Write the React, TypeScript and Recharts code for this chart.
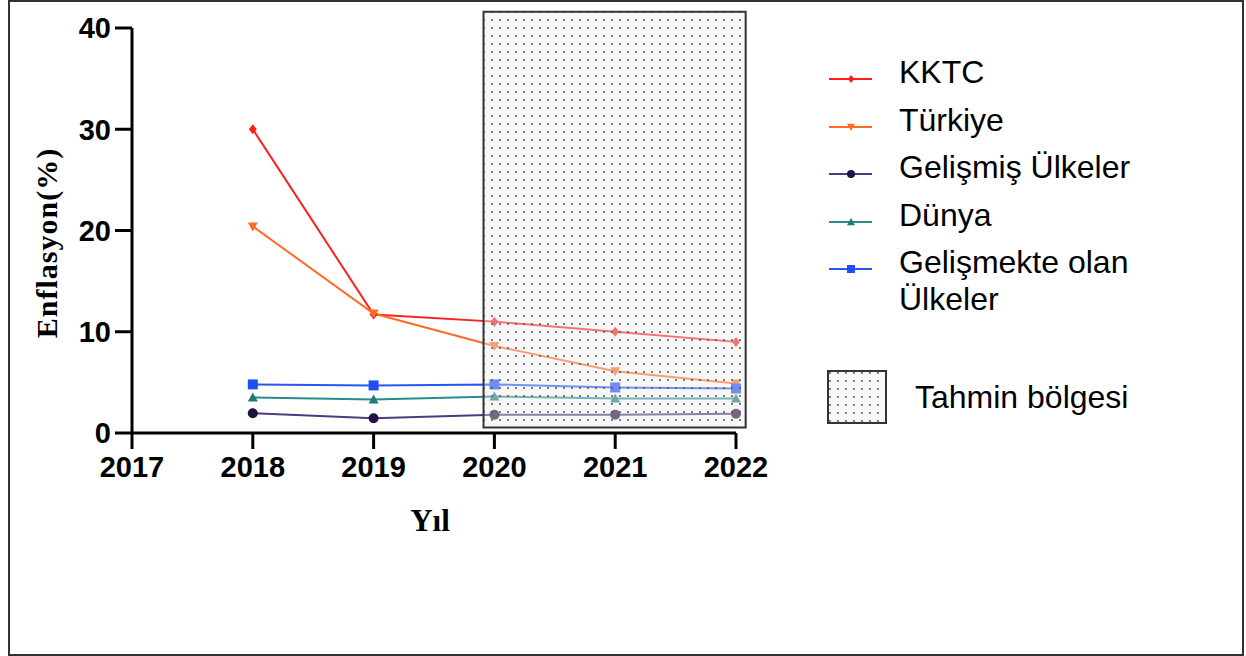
import React from 'react'
import { LineChart, Line, XAxis, YAxis, ReferenceArea, Label } from 'recharts'

// years and inflation (%) per series
const years = [2018, 2019, 2020, 2021, 2022]
const xTicks = [2017, 2018, 2019, 2020, 2021, 2022]
const yTicks = [0, 10, 20, 30, 40]

const kktc = [30.0, 11.7, 11.0, 10.0, 9.0]
const turkiye = [20.4, 11.8, 8.6, 6.1, 4.9]
const gelismis = [1.95, 1.45, 1.8, 1.8, 1.9]
const dunya = [3.5, 3.3, 3.6, 3.4, 3.4]
const gelismekte = [4.8, 4.7, 4.8, 4.5, 4.4]

// forecast region (Tahmin bölgesi)
const forecastX = [2019.91, 2022.08]
const forecastY = [0.55, 41.6]

const series = [
  { key: 'kktc', name: 'KKTC', values: kktc, color: '#ff1f1f', markColor: '#ff1f1f', shape: 'diamond' },
  { key: 'turkiye', name: 'Türkiye', values: turkiye, color: '#ff6a24', markColor: '#ff6a24', shape: 'triangleDown' },
  { key: 'gelismis', name: 'Gelişmiş Ülkeler', values: gelismis, color: '#4a3c7e', markColor: '#211043', shape: 'circle' },
  { key: 'dunya', name: 'Dünya', values: dunya, color: '#2c8c8c', markColor: '#1f7b7b', shape: 'triangle' },
  { key: 'gelismekte', name: 'Gelişmekte olan Ülkeler', values: gelismekte, color: '#2458f0', markColor: '#1f4ff2', shape: 'square' },
]

const data = years.map((year, i) => {
  const row: any = { year }
  series.forEach(s => { row[s.key] = s.values[i] })
  return row
})

function Marker({ cx, cy, shape, fill, s = 5 }: any) {
  if (cx == null || cy == null) return null
  switch (shape) {
    case 'diamond':
      return <polygon points={`${cx},${cy - s} ${cx + s * 0.8},${cy} ${cx},${cy + s} ${cx - s * 0.8},${cy}`} fill={fill} />
    case 'triangleDown':
      return <polygon points={`${cx - s},${cy - s * 0.8} ${cx + s},${cy - s * 0.8} ${cx},${cy + s}`} fill={fill} />
    case 'triangle':
      return <polygon points={`${cx},${cy - s} ${cx + s},${cy + s * 0.8} ${cx - s},${cy + s * 0.8}`} fill={fill} />
    case 'square':
      return <rect x={cx - s} y={cy - s} width={s * 2} height={s * 2} fill={fill} />
    default:
      return <circle cx={cx} cy={cy} r={s} fill={fill} />
  }
}

const tickStyle = { fontFamily: 'Liberation Sans, Arial, sans-serif', fontWeight: 700, fontSize: 29, fill: '#000' }
const titleStyle = { fontFamily: 'Liberation Serif, Times New Roman, serif', fontWeight: 700, fill: '#000' }

function PatternDefs({ id }: { id: string }) {
  return (
    <defs>
      <pattern id={id} width="8" height="8" patternUnits="userSpaceOnUse">
        <rect width="8" height="8" fill="rgba(236,236,236,0.4)" />
        <circle cx="4" cy="4" r="1" fill="#555" />
      </pattern>
    </defs>
  )
}

export default function App() {
  return (
    <div style={{ position: 'absolute', left: 0, top: 0, width: 1246, height: 656, background: '#fff' }}>
      <div style={{ position: 'absolute', left: 8, top: 0, width: 1236, height: 656, border: '2px solid #333', boxSizing: 'border-box' }} />
      <LineChart width={1246} height={656} data={data} margin={{ top: 28, right: 510, bottom: 163, left: 72 }}>
        <PatternDefs id="dots" />
        <XAxis
          dataKey="year"
          type="number"
          domain={[2017, 2022]}
          ticks={xTicks}
          tick={tickStyle}
          tickSize={16}
          tickMargin={7}
          height={60}
          axisLine={{ stroke: '#000', strokeWidth: 3 }}
          tickLine={{ stroke: '#000', strokeWidth: 3 }}
        >
          <Label
            content={() => (
              <text x={430} y={531} textAnchor="middle" style={{ ...titleStyle, fontSize: 31 }}>Yıl</text>
            )}
          />
        </XAxis>
        <YAxis
          type="number"
          domain={[0, 40]}
          ticks={yTicks}
          tick={tickStyle}
          tickSize={17}
          tickMargin={4}
          width={60}
          axisLine={{ stroke: '#000', strokeWidth: 3 }}
          tickLine={{ stroke: '#000', strokeWidth: 3 }}
        >
          <Label
            content={() => (
              <text x={57} y={243} textAnchor="middle" transform="rotate(-90 57 243)" style={{ ...titleStyle, fontSize: 30, letterSpacing: 1 }}>Enflasyon(%)</text>
            )}
          />
        </YAxis>
        {series.map(s => (
          <Line
            key={s.key}
            dataKey={s.key}
            name={s.name}
            stroke={s.color}
            strokeWidth={2}
            isAnimationActive={false}
            dot={(p: any) => <Marker key={`${s.key}-${p.index}`} cx={p.cx} cy={p.cy} shape={s.shape} fill={s.markColor} />}
            activeDot={false}
          />
        ))}
        <ReferenceArea
          x1={forecastX[0]}
          x2={forecastX[1]}
          y1={forecastY[0]}
          y2={forecastY[1]}
          ifOverflow="visible"
          fill="url(#dots)"
          fillOpacity={1}
          stroke="#333"
          strokeWidth={2}
          {...({ zIndex: 1000 } as any)}
        />
      </LineChart>
      <div style={{ position: 'absolute', left: 826, top: 0, fontFamily: 'Liberation Sans, Arial, sans-serif', fontSize: 32, color: '#000' }}>
        {series.map((s, i) => (
          <div key={s.key} style={{ position: 'absolute', left: 0, top: 79 + i * 47.5 - 19, display: 'flex', alignItems: 'flex-start' }}>
            <svg width={50} height={38} style={{ flex: 'none' }}>
              <line x1={3} y1={19} x2={46} y2={19} stroke={s.color} strokeWidth={2} />
              <Marker cx={25} cy={19} shape={s.shape} fill={s.markColor} s={4} />
            </svg>
            <div style={{ marginLeft: 23, width: 250, lineHeight: '37px', marginTop: -6 }}>{s.name}</div>
          </div>
        ))}
        <div style={{ position: 'absolute', left: 0, top: 369, display: 'flex', alignItems: 'center', whiteSpace: 'nowrap' }}>
          <svg width={62} height={56} style={{ flex: 'none' }}>
            <PatternDefs id="dotsLegend" />
            <rect x={2} y={2} width={58} height={52} fill="url(#dotsLegend)" stroke="#333" strokeWidth={2} />
          </svg>
          <div style={{ marginLeft: 27 }}>Tahmin bölgesi</div>
        </div>
      </div>
    </div>
  )
}
